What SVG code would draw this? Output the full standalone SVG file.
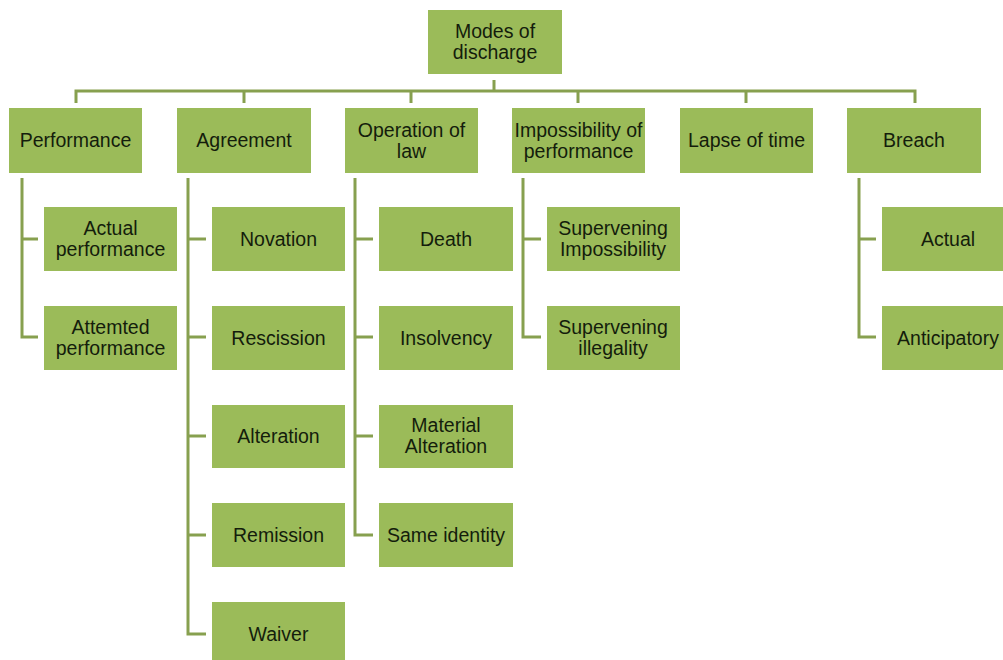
<svg xmlns="http://www.w3.org/2000/svg" width="1003" height="660" viewBox="0 0 1003 660">
<style>
.box{fill:#9bbb59;}
.t{font-family:"Liberation Sans",Arial,sans-serif;font-size:19.5px;fill:#141d0c;text-anchor:middle;}
.c{fill:none;stroke:#87a04f;stroke-width:3;}
</style>
<rect width="1003" height="660" fill="#ffffff"/>
<g id="connectors">
<path class="c" d="M494 80V91M76 103V91H915V103M244 91V103M411 91V103M578 91V103M746 91V103"/>
<path class="c" d="M22 178V337H38M22 239H38"/>
<path class="c" d="M188 178V634H206M188 239H206M188 337H206M188 436H206M188 535H206"/>
<path class="c" d="M355 178V535H373M355 239H373M355 337H373M355 436H373"/>
<path class="c" d="M523 178V337H541M523 239H541"/>
<path class="c" d="M859 178V337H876M859 239H876"/>
</g>
<g id="root"><rect class="box" x="428" y="10" width="134" height="64"/><text class="t" x="495" y="38">Modes of</text><text class="t" x="495" y="59">discharge</text></g>
<g id="performance"><rect class="box" x="9" y="108" width="133" height="65"/><text class="t" x="75.5" y="147">Performance</text></g>
<g id="agreement"><rect class="box" x="177" y="108" width="134" height="65"/><text class="t" x="244" y="147">Agreement</text></g>
<g id="operation"><rect class="box" x="345" y="108" width="133" height="65"/><text class="t" x="411.5" y="137">Operation of</text><text class="t" x="411.5" y="158">law</text></g>
<g id="impossibility"><rect class="box" x="512" y="108" width="133" height="65"/><text class="t" x="578.5" y="137">Impossibility of</text><text class="t" x="578.5" y="158">performance</text></g>
<g id="lapse"><rect class="box" x="680" y="108" width="133" height="65"/><text class="t" x="746.5" y="147">Lapse of time</text></g>
<g id="breach"><rect class="box" x="847" y="108" width="134" height="65"/><text class="t" x="914" y="147">Breach</text></g>
<g id="actual-performance"><rect class="box" x="44" y="207" width="133" height="64"/><text class="t" x="110.5" y="235">Actual</text><text class="t" x="110.5" y="256">performance</text></g>
<g id="attemted-performance"><rect class="box" x="44" y="306" width="133" height="64"/><text class="t" x="110.5" y="334">Attemted</text><text class="t" x="110.5" y="355">performance</text></g>
<g id="novation"><rect class="box" x="212" y="207" width="133" height="64"/><text class="t" x="278.5" y="246">Novation</text></g>
<g id="rescission"><rect class="box" x="212" y="306" width="133" height="64"/><text class="t" x="278.5" y="345">Rescission</text></g>
<g id="alteration"><rect class="box" x="212" y="405" width="133" height="63"/><text class="t" x="278.5" y="443">Alteration</text></g>
<g id="remission"><rect class="box" x="212" y="503" width="133" height="64"/><text class="t" x="278.5" y="542">Remission</text></g>
<g id="waiver"><rect class="box" x="212" y="602" width="133" height="64"/><text class="t" x="278.5" y="641">Waiver</text></g>
<g id="death"><rect class="box" x="379" y="207" width="134" height="64"/><text class="t" x="446" y="246">Death</text></g>
<g id="insolvency"><rect class="box" x="379" y="306" width="134" height="64"/><text class="t" x="446" y="345">Insolvency</text></g>
<g id="material-alteration"><rect class="box" x="379" y="405" width="134" height="63"/><text class="t" x="446" y="432">Material</text><text class="t" x="446" y="453">Alteration</text></g>
<g id="same-identity"><rect class="box" x="379" y="503" width="134" height="64"/><text class="t" x="446" y="542">Same identity</text></g>
<g id="supervening-impossibility"><rect class="box" x="547" y="207" width="133" height="64"/><text class="t" x="613" y="235">Supervening</text><text class="t" x="613" y="256">Impossibility</text></g>
<g id="supervening-illegality"><rect class="box" x="547" y="306" width="133" height="64"/><text class="t" x="613" y="334">Supervening</text><text class="t" x="613" y="355">illegality</text></g>
<g id="actual"><rect class="box" x="882" y="207" width="133" height="64"/><text class="t" x="948" y="246">Actual</text></g>
<g id="anticipatory"><rect class="box" x="882" y="306" width="133" height="64"/><text class="t" x="948" y="345">Anticipatory</text></g>
</svg>
